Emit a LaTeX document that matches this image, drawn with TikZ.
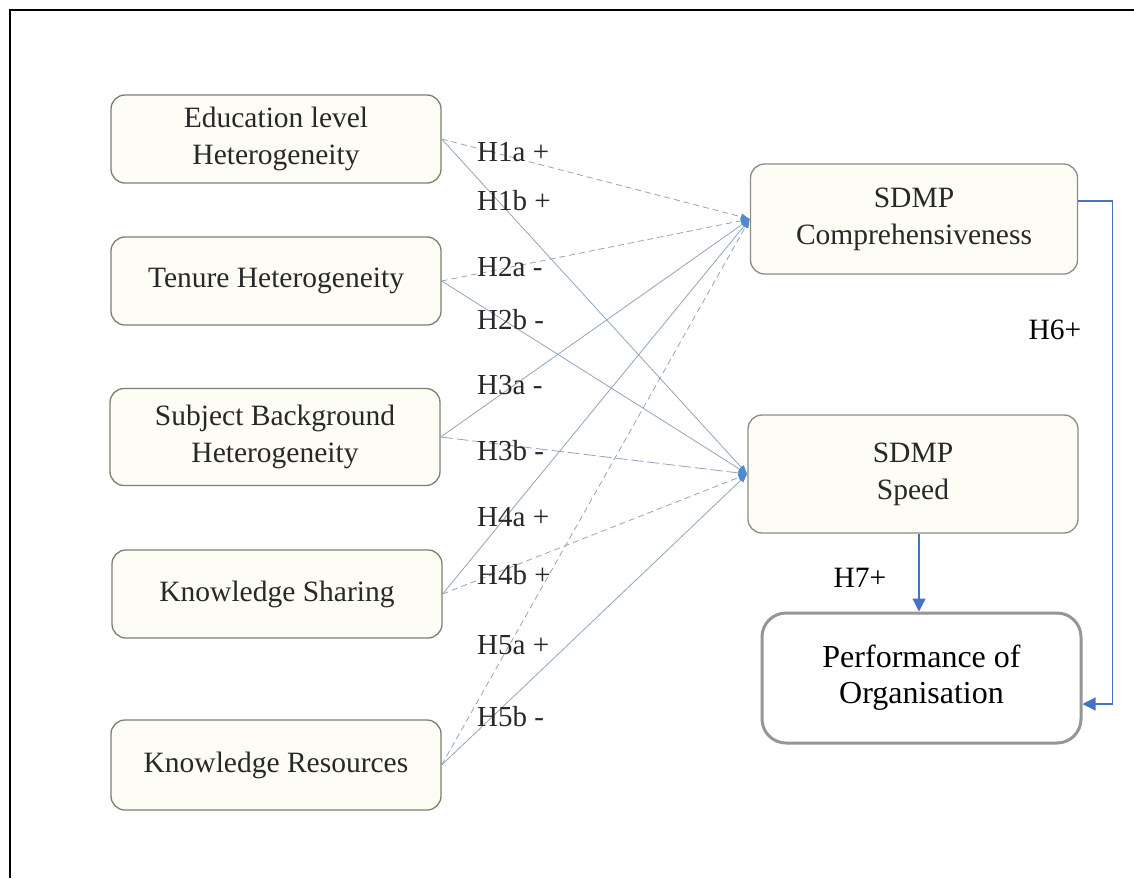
\documentclass[tikz,border=0pt]{standalone}
\usepackage{fontspec}
\setmainfont{Liberation Serif}
\usetikzlibrary{arrows.meta}
\definecolor{boxfill}{RGB}{253,253,246}
\definecolor{boxline}{RGB}{125,128,110}
\definecolor{rboxline}{RGB}{140,140,135}
\definecolor{perfline}{RGB}{150,150,150}
\definecolor{edgecol}{RGB}{145,165,190}
\definecolor{tipblue}{RGB}{80,140,205}
\definecolor{arrblue}{RGB}{68,114,196}
\definecolor{txtgray}{RGB}{40,40,40}
\begin{document}
\begin{tikzpicture}[x=1pt,y=-1pt,
  lbox/.style={draw=boxline, fill=boxfill, rounded corners=14pt, line width=1.3pt,
    minimum width=330pt, minimum height=88pt, align=center, inner sep=0pt,
    text=txtgray, font=\fontsize{29.5}{37}\selectfont},
  rbox/.style={lbox, draw=rboxline},
  pbox/.style={draw=perfline, fill=white, rounded corners=24pt, line width=3pt,
    minimum width=319pt, minimum height=130pt, align=center, inner sep=0pt,
    font=\fontsize{32}{36}\selectfont},
  hyp/.style={anchor=west, inner sep=0pt, text=txtgray, font=\fontsize{29}{33}\selectfont},
  lab/.style={inner sep=0pt, font=\fontsize{29.5}{33}\selectfont},
  link/.style={draw=edgecol, line width=0.8pt, -{Latex[length=9pt,width=7pt,color=tipblue]}},
  dlink/.style={link, dash pattern=on 6pt off 4pt},
  barrow/.style={draw=arrblue, line width=1.2pt, -{Triangle[length=13pt,width=13pt,color=arrblue]}}
]
\useasboundingbox (0,0) rectangle (1134,878);
\fill[white] (0,0) rectangle (1134,878);
\draw[line width=2.5pt] (10,878) -- (10,10) -- (1134,10);

% left boxes
\node[lbox] (edu) at (276,139) {Education level\\Heterogeneity};
\node[lbox] (ten) at (276,281) {Tenure Heterogeneity};
\node[lbox, minimum height=97pt] (sub) at (275,437) {Subject Background\\Heterogeneity};
\node[lbox] (ks) at (277,594) {Knowledge Sharing};
\node[lbox, minimum height=90pt] (kr) at (276,765) {Knowledge Resources};

% right boxes
\node[rbox, minimum width=327pt, minimum height=110pt] (comp) at (914,219) {SDMP\\Comprehensiveness};
\node[rbox, minimum width=330pt, minimum height=118pt] (speed) at (913,474) {SDMP\\Speed};
\node[pbox] (perf) at (921.5,678) {Performance of\\Organisation};

% connectors
\draw[dlink] (edu.east) -- (comp.west);
\draw[link] (edu.east) -- (speed.west);
\draw[dlink] (ten.east) -- (comp.west);
\draw[link] (ten.east) -- (speed.west);
\draw[link] (sub.east) -- (comp.west);
\draw[link, dash pattern=on 12pt off 4pt] (sub.east) -- (speed.west);
\draw[link] (ks.east) -- (comp.west);
\draw[dlink] (ks.east) -- (speed.west);
\draw[dlink] (kr.east) -- (comp.west);
\draw[link] (kr.east) -- (speed.west);

% hypothesis labels
\node[hyp] (h1a) at (477,152) {H1a +};
\node[hyp] (h1b) at (477,201) {H1b +};
\node[hyp] (h2a) at (477,267) {H2a -};
\node[hyp] (h2b) at (477,320) {H2b -};
\node[hyp] (h3a) at (477,385) {H3a -};
\node[hyp] (h3b) at (477,451) {H3b -};
\node[hyp] (h4a) at (477,517) {H4a +};
\node[hyp] (h4b) at (477,575) {H4b +};
\node[hyp] (h5a) at (477,645) {H5a +};
\node[hyp] (h5b) at (477,717) {H5b -};

% outcome arrows
\draw[barrow] ([xshift=6pt]speed.south) -- ([xshift=-2.5pt]perf.north);
\draw[barrow] ([yshift=18pt]comp.east) -- ++(34,0) |- ([yshift=-26pt]perf.east);
\node[lab] (h6) at (1055,330) {H6+};
\node[lab] (h7) at (860,578) {H7+};
\end{tikzpicture}
\end{document}
